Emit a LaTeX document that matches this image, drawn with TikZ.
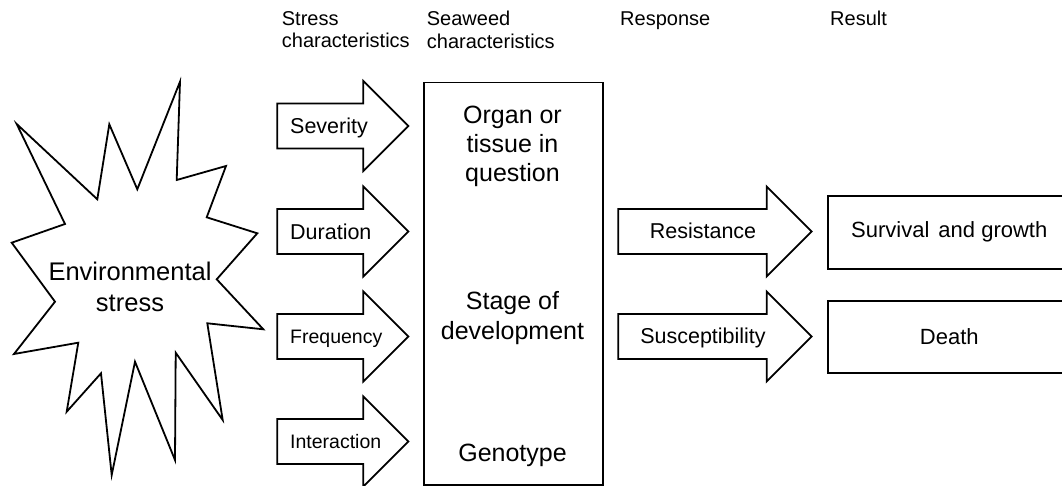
\documentclass[tikz,border=0pt]{standalone}
\usepackage{fontspec}
\setmainfont{Liberation Sans}
\newcommand\myfs[2]{\fontsize{#1}{#2}\selectfont}
\newcommand\blockarrow[4]{% #1 x left, #2 x head start, #3 x tip, #4 y centre
  \draw[shapeline] (#1,#4-22.5) -- (#2,#4-22.5) -- (#2,#4-45) -- (#3,#4)
    -- (#2,#4+45) -- (#2,#4+22.5) -- (#1,#4+22.5) -- cycle;}
\begin{document}
\begin{tikzpicture}[x=1pt,y=-1pt,
  shapeline/.style={draw=black,line width=1.8pt,fill=white},
  lbl/.style={inner sep=0pt,text=black},
  boxnode/.style={shapeline,inner sep=0pt,anchor=north west,text=black}]
\useasboundingbox (0,0) rectangle (1062,486);

% headers
\node[lbl,anchor=west,align=left,font=\myfs{20}{22.3}] (h1) at (281.7,29.9) {Stress\\characteristics};
\node[lbl,anchor=west,align=left,font=\myfs{20}{22.3}] (h2) at (426.7,29.9) {Seaweed\\characteristics};
\node[lbl,anchor=base west,font=\myfs{20}{22.3}] (h3) at (620,26) {Response};
\node[lbl,anchor=base west,font=\myfs{20}{22.3}] (h4) at (830,26) {Result};

% starburst
\draw[shapeline] (180,81.7) -- (176.7,180) -- (226,166) -- (206.7,217.3) -- (257.3,233.3)
  -- (216.7,279.3) -- (263.3,329.3) -- (207.3,323.3) -- (222.7,420) -- (175.7,352.7)
  -- (175,460) -- (135,361.7) -- (111.7,475) -- (101,373.3) -- (66.7,411.7)
  -- (78.3,342.7) -- (14,354) -- (55,301.7) -- (11.7,242.7) -- (65,224)
  -- (16.7,124) -- (97.3,199.3) -- (109.3,124.3) -- (137.3,189.3) -- cycle;
\node[lbl,align=center,font=\myfs{25.5}{31}] (env) at (130,286.5) {Environmental\\stress};

% stress characteristic arrows
\blockarrow{277.3}{363.3}{408.3}{126}
\blockarrow{277.3}{363.3}{408.3}{231.5}
\blockarrow{277.3}{363.3}{408.3}{336.5}
\blockarrow{277.3}{363.3}{408.3}{441.5}
\node[lbl,anchor=base west,font=\myfs{21.5}{24}] (sev) at (290,134) {Severity};
\node[lbl,anchor=base west,font=\myfs{21.5}{24}] (dur) at (290,239.5) {Duration};
\node[lbl,anchor=base west,font=\myfs{19.5}{22}] (fre) at (290,343.5) {Frequency};
\node[lbl,anchor=base west,font=\myfs{19.5}{22}] (int) at (290,448.5) {Interaction};

% seaweed characteristics box
\node[boxnode,minimum width=178.4pt,minimum height=402.6pt] (seaweed) at (423.3,81.7) {};
\node[lbl,align=center,font=\myfs{25}{29}] (organ) at (512.5,146.6) {Organ or\\tissue in\\question};
\node[lbl,align=center,font=\myfs{25}{30}] (stage) at (512.5,317.8) {Stage of\\development};
\node[lbl,anchor=base,font=\myfs{25}{30}] (geno) at (512.5,461.7) {Genotype};

% response arrows
\blockarrow{618.3}{766.7}{811.7}{231.5}
\blockarrow{618.3}{766.7}{811.7}{336.5}
\node[lbl,anchor=base,font=\myfs{21.5}{24}] (res) at (703,238.3) {Resistance};
\node[lbl,anchor=base,font=\myfs{21.5}{24}] (sus) at (703,343.3) {Susceptibility};

% result boxes (run off the right edge)
\begin{scope}
\clip (0,0) rectangle (1062,486);
\node[boxnode,minimum width=243.3pt,minimum height=72.7pt,font=\myfs{22}{26}] (surv) at (826.7,195) {Survival\hspace{3pt} and growth};
\node[boxnode,minimum width=243.3pt,minimum height=71.7pt,font=\myfs{22}{26}] (death) at (826.7,300) {Death};
\end{scope}
\end{tikzpicture}
\end{document}
